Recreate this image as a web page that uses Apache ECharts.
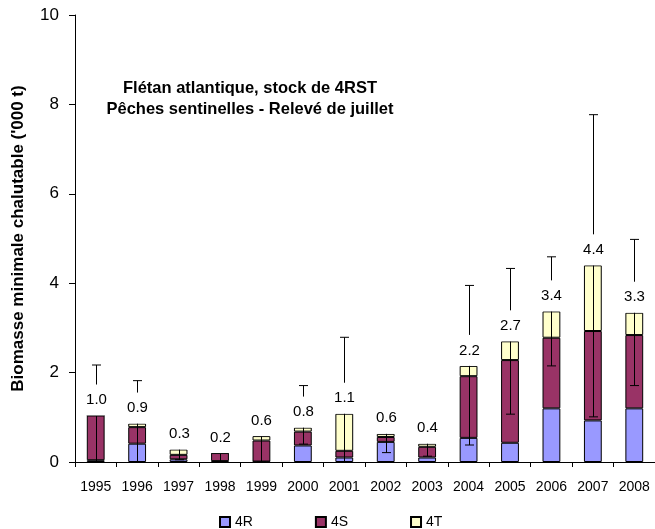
<!DOCTYPE html>
<html>
<head>
<meta charset="utf-8">
<script src="https://cdn.jsdelivr.net/npm/echarts@6/dist/echarts.min.js"></script>
<style>html,body{margin:0;padding:0;background:#fff}#c{width:655px;height:529px}</style>
</head>
<body>
<div id="c"></div>
<script>
const years = ['1995','1996','1997','1998','1999','2000','2001','2002','2003','2004','2005','2006','2007','2008'];
const s4R = [0.04, 0.41, 0.06, 0.02, 0.01, 0.37, 0.10, 0.45, 0.10, 0.54, 0.43, 1.20, 0.93, 1.20];
const s4S = [1.00, 0.37, 0.10, 0.18, 0.47, 0.31, 0.15, 0.11, 0.24, 1.38, 1.85, 1.58, 2.00, 1.64];
const s4T = [0.00, 0.08, 0.12, 0.00, 0.10, 0.09, 0.83, 0.07, 0.07, 0.23, 0.42, 0.59, 1.47, 0.50];
const totalLabels = [1.0, 0.9, 0.3, 0.2, 0.6, 0.8, 1.1, 0.6, 0.4, 2.2, 2.7, 3.4, 4.4, 3.3];
const errLow  = [0.00, 0.00, 0.05, 0.00, 0.00, 0.40, 0.00, 0.21, 0.13, 0.38, 1.07, 2.15, 1.01, 1.71];
const errHigh = [2.17, 1.82, 0.45, 0.22, 0.80, 1.71, 2.79, 0.80, 0.60, 3.95, 4.33, 4.59, 7.77, 4.98];
const yTicks = [0, 2, 4, 6, 8, 10];

const errData = years.map((y, i) => [i, errLow[i], errHigh[i], s4R[i] + s4S[i] + s4T[i], totalLabels[i]]);

const chart = echarts.init(document.getElementById('c'));
const FONT = 'Liberation Sans, Arial, sans-serif';
const barCommon = {
  type: 'bar', stack: 'total', barWidth: '43%',
  emphasis: { disabled: true }
};
chart.setOption({
  animation: false,
  textStyle: { fontFamily: FONT },
  title: {
    text: 'Flétan atlantique, stock de 4RST\nPêches sentinelles - Relevé de juillet',
    left: 245, top: 73, textAlign: 'center',
    textStyle: { fontFamily: FONT, fontSize: 16.5, fontWeight: 'bold', color: '#000', lineHeight: 21 }
  },
  legend: {
    left: 214, top: 510, itemWidth: 10, itemHeight: 10, itemGap: 62,
    icon: 'rect',
    textStyle: { fontFamily: FONT, fontSize: 14, color: '#000' },
    data: ['4R', '4S', '4T']
  },
  grid: { left: 75, right: 0, top: 15, bottom: 67 },
  xAxis: {
    type: 'category', data: years,
    axisLine: { lineStyle: { color: '#000' } },
    axisTick: { show: true, length: 5, lineStyle: { color: '#000' } },
    axisLabel: { fontFamily: FONT, fontSize: 14, color: '#000', margin: 18, interval: 0 }
  },
  yAxis: {
    type: 'value', min: yTicks[0], max: yTicks[yTicks.length - 1], interval: 2,
    name: "Biomasse minimale chalutable ('000 t)",
    nameLocation: 'middle', nameGap: 48,
    nameTextStyle: { fontFamily: FONT, fontSize: 17, fontWeight: 'bold', color: '#000' },
    axisLine: { show: true, lineStyle: { color: '#000' } },
    axisTick: { show: true, length: 6, lineStyle: { color: '#000' } },
    axisLabel: { fontFamily: FONT, fontSize: 17, color: '#000', margin: 16 },
    splitLine: { show: false }
  },
  series: [
    Object.assign({}, barCommon, { name: '4R', data: s4R, itemStyle: { color: '#9999FF', borderColor: '#000', borderWidth: 1 } }),
    Object.assign({}, barCommon, { name: '4S', data: s4S, itemStyle: { color: '#993366', borderColor: '#000', borderWidth: 1 } }),
    Object.assign({}, barCommon, { name: '4T', data: s4T, itemStyle: { color: '#FFFFCC', borderColor: '#000', borderWidth: 1 } }),
    {
      type: 'custom', z: 10, data: errData, silent: true,
      renderItem: function (params, api) {
        const i = api.value(0);
        const pL = api.coord([i, api.value(1)]);
        const pH = api.coord([i, api.value(2)]);
        const pT = api.coord([i, api.value(3)]);
        const x = Math.round(pL[0]) + 0.5;
        const cap = 4.5;
        const st = { stroke: '#000', lineWidth: 1 };
        return {
          type: 'group',
          children: [
            { type: 'line', shape: { x1: x, y1: pL[1], x2: x, y2: pH[1] }, style: st },
            { type: 'line', shape: { x1: x - cap, y1: pH[1], x2: x + cap, y2: pH[1] }, style: st },
            { type: 'line', shape: { x1: x - cap, y1: pL[1], x2: x + cap, y2: pL[1] }, style: st },
            {
              type: 'text', x: x, y: pT[1] - 15.5,
              style: {
                text: api.value(4).toFixed(1), fill: '#000', font: '15px ' + FONT,
                align: 'center', verticalAlign: 'middle',
                backgroundColor: '#fff', padding: [8, 2]
              }
            }
          ]
        };
      }
    }
  ]
});
</script>
</body>
</html>
